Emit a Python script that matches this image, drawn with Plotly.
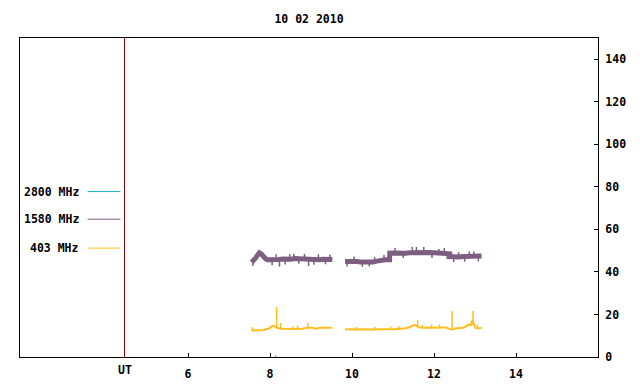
import plotly.graph_objects as go

# ---------------- data ----------------
title_text = "10 02 2010"
x_ticks = [6, 8, 10, 12, 14]
y_ticks = [0, 20, 40, 60, 80, 100, 120, 140]
ut_hour = 4.45

legend_names = ["2800 MHz", "1580 MHz", "403 MHz"]

# 2800 MHz (almost nothing recorded)
f2800_t = [8.12, 8.15]
f2800_v = [0.3, 0.3]

# 1580 MHz
f1580_t1 = [7.55, 7.60, 7.65, 7.70, 7.74, 7.78, 7.83, 7.89, 7.94, 8.01, 8.11, 8.21, 8.31,
            8.41, 8.51, 8.61, 8.71, 8.81, 8.91, 9.01, 9.11, 9.21, 9.31, 9.41, 9.52]
f1580_v1 = [44.6, 45.3, 46.6, 48.0, 49.0, 48.6, 47.3, 46.2, 45.7, 45.6, 45.8, 45.9, 46.1,
            45.8, 46.0, 46.3, 46.2, 45.9, 46.1, 45.8, 46.0, 45.7, 46.0, 45.9, 45.8]
f1580_t2 = [9.83, 9.91, 10.01, 10.11, 10.21, 10.31, 10.41, 10.51, 10.61, 10.71, 10.81, 10.915,
            10.92, 11.01, 11.11, 11.21, 11.31, 11.41, 11.51, 11.61, 11.71, 11.81, 11.91, 12.01,
            12.11, 12.21, 12.31, 12.385, 12.39, 12.51, 12.61, 12.71, 12.81, 12.91, 13.01, 13.16]
f1580_v2 = [44.9, 45.0, 44.8, 44.9, 44.7, 44.6, 44.4, 44.7, 45.1, 45.5, 45.7, 45.7,
            48.8, 48.9, 48.7, 48.9, 48.8, 49.0, 49.1, 49.3, 49.4, 49.2, 49.1, 49.0,
            49.0, 48.8, 48.6, 48.5, 47.2, 46.8, 47.0, 47.2, 47.3, 47.5, 47.4, 47.5]
f1580_spike_t = [8.23, 8.58, 8.94, 10.42, 11.47, 11.57, 12.12, 12.32, 12.97,
                 7.58, 8.05, 8.15, 8.37, 8.48, 8.70, 8.84, 9.07, 9.18, 9.35, 9.46,
                 9.88, 10.05, 10.25, 10.55, 10.78, 11.05, 11.25, 11.75, 11.95, 12.25,
                 12.48, 12.60, 12.75, 12.86, 13.08]
f1580_spike_base = [45.9, 46.1, 46.1, 44.4, 49.1, 49.2, 49.0, 48.6, 47.4,
                    45.0, 45.6, 45.8, 46.0, 45.8, 46.2, 46.0, 45.9, 46.0, 46.0, 45.9,
                    45.0, 44.9, 44.7, 44.7, 45.6, 48.9, 48.9, 49.4, 49.1, 48.8,
                    47.0, 47.0, 47.2, 47.3, 47.4]
f1580_spike_tip = [42.5, 48.6, 42.8, 42.6, 51.8, 51.8, 50.8, 46.1, 49.6,
                   42.8, 43.2, 48.3, 43.5, 48.4, 43.8, 48.5, 43.4, 48.3, 43.6, 48.2,
                   42.6, 47.3, 42.4, 47.1, 48.0, 51.3, 46.5, 51.7, 46.6, 51.2,
                   44.6, 49.3, 44.8, 49.6, 45.0]

# 403 MHz
f403_t1 = [7.55, 7.61, 7.66, 7.76, 7.86, 7.91, 7.98, 8.03, 8.08, 8.13, 8.18, 8.26, 8.36,
           8.46, 8.56, 8.66, 8.76, 8.88, 8.96, 9.06, 9.13, 9.20, 9.31, 9.41, 9.52]
f403_v1 = [12.4, 12.6, 12.6, 12.6, 12.7, 13.2, 13.4, 14.3, 14.8, 14.2, 13.6, 13.3, 13.2,
           13.3, 13.3, 13.2, 13.3, 13.7, 13.9, 13.7, 13.2, 13.8, 13.8, 13.7, 13.8]
f403_t2 = [9.83, 9.91, 10.01, 10.11, 10.21, 10.31, 10.41, 10.51, 10.61, 10.71,
           10.81, 10.91, 11.01, 11.11, 11.21, 11.31, 11.38, 11.46, 11.52, 11.58,
           11.64, 11.71, 11.81, 11.91, 12.01, 12.11, 12.21, 12.31, 12.38, 12.46,
           12.52, 12.61, 12.71, 12.78, 12.84, 12.90, 12.94, 12.98, 13.02, 13.08, 13.16]
f403_v2 = [13.0, 12.9, 12.9, 13.0, 12.9, 12.9, 13.0, 12.9, 13.0, 12.9,
           13.0, 13.0, 13.1, 13.2, 13.2, 13.5, 13.9, 14.4, 15.0, 14.6,
           13.9, 13.8, 13.9, 13.7, 13.9, 13.8, 14.0, 13.8, 13.1, 12.9,
           13.4, 13.6, 13.7, 14.4, 15.2, 15.0, 17.5, 15.0, 13.6, 13.5, 13.6]
f403_spike_t = [7.57, 8.16, 8.26, 8.55, 8.67, 8.92, 10.11, 10.56, 10.94, 11.14, 11.60,
                11.71, 11.94, 12.13, 12.44, 12.95, 13.06]
f403_spike_base = [12.5, 13.8, 13.3, 13.3, 13.2, 13.8, 13.0, 12.9, 13.0, 13.2, 14.6,
                   13.8, 13.7, 13.8, 13.0, 15.0, 13.6]
f403_spike_tip = [14.0, 23.5, 16.0, 14.4, 14.8, 16.0, 14.1, 14.1, 14.3, 14.3, 17.4,
                  15.0, 15.3, 15.3, 21.6, 21.6, 15.3]

# legend placement (data coords inside the left panel)
legend_y = [77.8, 64.8, 51.2]
legend_x0, legend_x1 = 3.55, 4.35

# ---------------- styles ----------------
C2800 = "#20b0c0"
C1580 = "#7e5e80"
C403 = "#ffbf20"
FONT = dict(family="DejaVu Sans Mono", size=11.5, color="black", weight="bold")


def spikes(ts, bs, tips):
    xs, ys = [], []
    for t, b, tp in zip(ts, bs, tips):
        xs += [t, t, None]
        ys += [b, tp, None]
    return xs, ys


fig = go.Figure()

fig.add_trace(go.Scatter(x=f1580_t1 + [None] + f1580_t2, y=f1580_v1 + [None] + f1580_v2,
                         mode="lines", line=dict(color=C1580, width=5), showlegend=False,
                         connectgaps=False))
sx, sy = spikes(f1580_spike_t, f1580_spike_base, f1580_spike_tip)
fig.add_trace(go.Scatter(x=sx, y=sy, mode="lines", line=dict(color=C1580, width=1.5),
                         showlegend=False))

fig.add_trace(go.Scatter(x=f403_t1 + [None] + f403_t2, y=f403_v1 + [None] + f403_v2,
                         mode="lines", line=dict(color=C403, width=2), showlegend=False,
                         connectgaps=False))
sx, sy = spikes(f403_spike_t, f403_spike_base, f403_spike_tip)
fig.add_trace(go.Scatter(x=sx, y=sy, mode="lines", line=dict(color=C403, width=1.5),
                         showlegend=False))

fig.add_trace(go.Scatter(x=f2800_t, y=f2800_v, mode="lines",
                         line=dict(color=C2800, width=1.5), showlegend=False))

# legend (left panel)
colors = [C2800, C1580, C403]
for name, yv, col in zip(legend_names, legend_y, colors):
    fig.add_shape(type="line", xref="x", yref="y", x0=legend_x0, x1=legend_x1, y0=yv, y1=yv,
                  line=dict(color=col, width=1))
    fig.add_annotation(xref="paper", yref="y", x=(81 - 20) / 578, y=yv, text=name,
                       showarrow=False, xanchor="right", yanchor="middle", font=FONT)

# UT separator
fig.add_shape(type="line", xref="x", yref="paper", x0=ut_hour, x1=ut_hour, y0=0, y1=1,
              line=dict(color="#800000", width=1))
fig.add_annotation(xref="x", yref="paper", x=ut_hour, y=-0.012, text="UT", showarrow=False,
                   xanchor="center", yanchor="top", font=FONT)

fig.update_layout(
    width=640, height=384,
    margin=dict(l=20, r=42, t=38, b=27, pad=0),
    paper_bgcolor="white", plot_bgcolor="white",
    font=FONT,
    title=dict(text=title_text, x=(309) / 640, xanchor="center", y=1 - 19 / 384,
               yanchor="middle", font=FONT),
    xaxis=dict(range=[1.9, 16], tickvals=x_ticks, ticks="inside", ticklen=4,
               tickcolor="black", showline=True, mirror=True, linecolor="black",
               linewidth=1, showgrid=False, zeroline=False, tickfont=FONT,
               ticklabelstandoff=6, automargin=False),
    yaxis=dict(range=[0, 150], tickvals=y_ticks, side="right", ticks="inside", ticklen=4,
               tickcolor="black", showline=True, mirror=True, linecolor="black",
               linewidth=1, showgrid=False, zeroline=False, tickfont=FONT,
               ticklabelstandoff=4, automargin=False),
)

fig.write_html("out.html", config={"displayModeBar": False},
               post_script="document.body.style.margin='0';")
